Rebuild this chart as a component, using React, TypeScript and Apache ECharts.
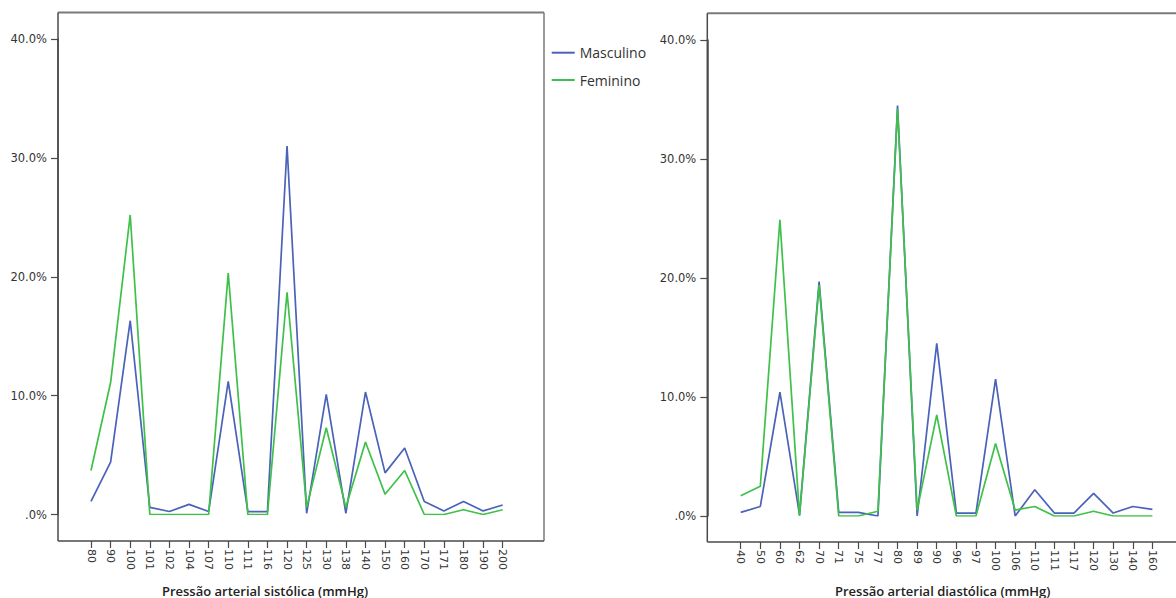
import React, { useEffect, useRef } from "react";
import * as echarts from "echarts";

const seriesNames = ["Masculino", "Feminino"];
const yTicks = [0, 10, 20, 30, 40];

const sysCategories = ["80", "90", "100", "101", "102", "104", "107", "110", "111", "116", "120", "125", "130", "138", "140", "150", "160", "170", "171", "180", "190", "200"];
const sysMasculino = [1.1, 4.4, 16.3, 0.6, 0.25, 0.85, 0.25, 11.2, 0.25, 0.25, 31.0, 0.1, 10.1, 0.1, 10.3, 3.5, 5.6, 1.1, 0.3, 1.1, 0.3, 0.8];
const sysFeminino = [3.7, 11.1, 25.2, 0, 0, 0, 0, 20.3, 0, 0, 18.7, 0.6, 7.3, 0.6, 6.1, 1.7, 3.7, 0, 0, 0.4, 0, 0.4];

const diaCategories = ["40", "50", "60", "62", "70", "71", "75", "77", "80", "89", "90", "96", "97", "100", "106", "110", "111", "117", "120", "130", "140", "160"];
const diaMasculino = [0.3, 0.8, 10.4, 0.1, 19.7, 0.3, 0.3, 0, 34.5, 0, 14.5, 0.25, 0.25, 11.5, 0, 2.2, 0.25, 0.25, 1.9, 0.25, 0.8, 0.55];
const diaFeminino = [1.7, 2.5, 24.9, 0, 19.4, 0, 0, 0.4, 34.2, 0.5, 8.5, 0, 0, 6.1, 0.5, 0.8, 0, 0, 0.4, 0, 0, 0];

const sysTitle = "Pressão arterial sistólica (mmHg)";
const diaTitle = "Pressão arterial diastólica (mmHg)";

const BLUE = "#4a62b8";
const GREEN = "#3fc04a";
const AXIS = "#4a4a4a";
const BORDER = "#7a7a7a";
const TEXT = "#333333";
const FONT = "DejaVu Sans";

const fmt = (v: number) => (v === 0 ? ".0%" : v.toFixed(1) + "%");

export default function App() {
  const ref = useRef<HTMLDivElement>(null);
  useEffect(() => {
    if (!ref.current) return;
    const chart = echarts.init(ref.current, null, { renderer: "svg" });

    const mkY = (gridIndex: number, offset: number) => ({
      type: "value",
      gridIndex,
      min: yTicks[0],
      max: yTicks[yTicks.length - 1],
      interval: 10,
      offset,
      splitLine: { show: false },
      axisLine: { show: true, onZero: false, lineStyle: { color: AXIS, width: 1.5 } },
      axisTick: { show: true, length: 7, lineStyle: { color: AXIS, width: 1.2 } },
      axisLabel: { formatter: fmt, color: TEXT, fontFamily: FONT, fontSize: 11.5, margin: 11 },
    });
    const mkX = (gridIndex: number, data: string[], offset: number) => ({
      type: "category",
      gridIndex,
      data,
      boundaryGap: true,
      offset,
      axisLine: { show: false, onZero: false },
      axisTick: { show: true, alignWithLabel: true, length: 7, lineStyle: { color: AXIS, width: 1.2 } },
      axisLabel: { rotate: -90, color: TEXT, fontFamily: FONT, fontSize: 11, margin: 8, interval: 0 },
      splitLine: { show: false },
    });
    const mkS = (name: string, data: number[], idx: number, color: string) => ({
      type: "line",
      name,
      data,
      xAxisIndex: idx,
      yAxisIndex: idx,
      symbol: "none",
      lineStyle: { color, width: 1.7 },
      itemStyle: { color },
    });
    const ln = (x1: number, y1: number, x2: number, y2: number, color: string, w: number) => ({
      type: "line",
      shape: { x1, y1, x2, y2 },
      style: { stroke: color, lineWidth: w },
      silent: true,
    });

    chart.setOption({
      animation: false,
      backgroundColor: "#ffffff",
      grid: [
        { left: 81.2, top: 39, width: 431.3, height: 475.5 },
        { left: 730.9, top: 40, width: 431.3, height: 476 },
      ],
      xAxis: [mkX(0, sysCategories, 26.5), mkX(1, diaCategories, 26)],
      yAxis: [mkY(0, 23.2), mkY(1, 23.6)],
      legend: {
        orient: "vertical",
        left: 551.7,
        top: 45.7,
        padding: 0,
        icon: "rect",
        itemWidth: 23,
        itemHeight: 2,
        itemGap: 13.3,
        data: seriesNames,
        textStyle: { color: TEXT, fontFamily: "Open Sans", fontSize: 14, lineHeight: 14 },
      },
      series: [
        mkS(seriesNames[0], sysMasculino, 0, BLUE),
        mkS(seriesNames[1], sysFeminino, 0, GREEN),
        mkS(seriesNames[0], diaMasculino, 1, BLUE),
        mkS(seriesNames[1], diaFeminino, 1, GREEN),
      ],
      graphic: [
        ln(58, 12.5, 544, 12.5, BORDER, 2),
        ln(544, 12.5, 544, 541, BORDER, 1.5),
        ln(58, 12.5, 58, 541, AXIS, 1.5),
        ln(58, 541, 544, 541, AXIS, 1.5),
        ln(707.3, 13.3, 1176, 13.3, BORDER, 2),
        ln(707.3, 13.3, 707.3, 542, AXIS, 1.5),
        ln(707.3, 542, 1176, 542, AXIS, 1.5),
        {
          type: "text",
          x: 265,
          y: 584,
          style: {
            text: sysTitle,
            fill: "#222",
            font: "600 13px 'Open Sans'",
            textAlign: "center",
            textVerticalAlign: "top",
          },
        },
        {
          type: "text",
          x: 942.7,
          y: 584,
          style: {
            text: diaTitle,
            fill: "#222",
            font: "600 13px 'Open Sans'",
            textAlign: "center",
            textVerticalAlign: "top",
          },
        },
      ],
    });
    return () => chart.dispose();
  }, []);
  return (
    <div
      ref={ref}
      style={{ position: "fixed", left: 0, top: 0, width: 1176, height: 598, background: "#fff" }}
    />
  );
}
